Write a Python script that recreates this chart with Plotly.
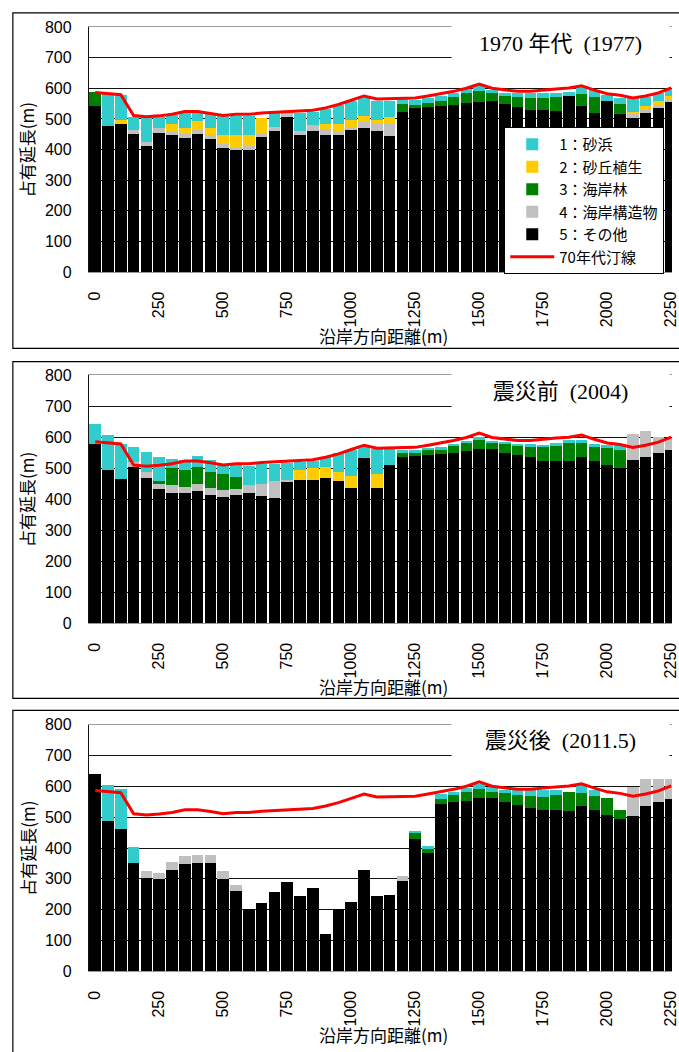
import plotly.graph_objects as go

W, H = 679, 1052

distance = [0, 50, 100, 150, 200, 250, 300, 350, 400, 450, 500, 550, 600, 650, 700, 750,
            800, 850, 900, 950, 1000, 1050, 1100, 1150, 1200, 1250, 1300, 1350, 1400, 1450,
            1500, 1550, 1600, 1650, 1700, 1750, 1800, 1850, 1900, 1950, 2000, 2050, 2100,
            2150, 2200, 2250]
tick_vals = [0, 250, 500, 750, 1000, 1250, 1500, 1750, 2000, 2250]
tick_text = ["0", "250", "500", "750", "1000", "1250", "1500", "1750", "2000", "2250"]

series_names = ["1：砂浜", "2：砂丘植生", "3：海岸林", "4：海岸構造物", "5：その他"]
line_name = "70年代汀線"
panel_titles = ["1970\u00a0年代\u00a0\u00a0(1977)", "震災前\u00a0\u00a0(2004)", "震災後\u00a0\u00a0(2011.5)"]

# ---- 1970s (1977) ----
sunahama_1977 = [0, 104, 81, 41, 80, 36, 30, 48, 25, 48, 63, 63, 63, 0, 49, 0, 58, 42, 49, 60, 60, 58, 63, 53,
                 16, 18, 16, 16, 16, 14, 21, 11, 10, 13, 19, 19, 13, 14, 24, 21, 18, 18, 45, 32, 26, 19]
sakyu_1977 = [0, 0, 13, 0, 0, 0, 23, 19, 29, 24, 29, 41, 35, 50, 0, 0, 0, 0, 17, 23, 23, 16, 12, 22,
              0, 0, 0, 0, 0, 0, 0, 0, 0, 0, 0, 0, 0, 0, 0, 0, 0, 0, 5, 13, 16, 13]
rin_1977 = [48, 0, 0, 0, 0, 0, 0, 0, 0, 0, 0, 0, 0, 0, 0, 0, 0, 0, 0, 0, 0, 0, 0, 0,
            27, 6, 13, 18, 26, 32, 38, 23, 28, 35, 39, 39, 48, 0, 40, 54, 0, 33, 0, 0, 0, 0]
kozo_1977 = [0, 0, 0, 13, 15, 15, 13, 14, 13, 14, 13, 7, 15, 11, 13, 14, 13, 19, 19, 13, 11, 23, 23, 39,
             0, 0, 0, 0, 0, 0, 0, 0, 0, 0, 0, 0, 0, 0, 0, 0, 0, 0, 14, 9, 6, 8]
sonota_1977 = [541, 477, 484, 452, 411, 455, 448, 438, 452, 433, 406, 400, 398, 442, 461, 505, 448, 461,
               448, 448, 463, 470, 461, 445, 521, 538, 538, 541, 544, 551, 554, 560, 548, 538, 528, 528,
               525, 575, 541, 519, 560, 516, 503, 519, 538, 554]

# ---- before the disaster (2004) ----
sunahama_2004 = [63, 113, 114, 49, 66, 76, 32, 33, 37, 38, 29, 37, 63, 64, 54, 55, 28, 24, 32, 61, 83, 35, 81, 51,
                 10, 10, 9, 8, 7, 7, 11, 7, 6, 7, 10, 7, 10, 10, 10, 10, 9, 15, 0, 0, 0, 0]
sakyu_2004 = [0, 0, 0, 0, 0, 0, 0, 0, 0, 0, 0, 0, 0, 0, 0, 0, 32, 39, 35, 31, 38, 0, 44, 0,
              0, 0, 0, 0, 0, 0, 0, 0, 0, 0, 0, 0, 0, 0, 0, 0, 0, 0, 0, 0, 0, 0]
rin_2004 = [0, 0, 0, 0, 0, 11, 54, 53, 55, 53, 51, 39, 0, 0, 0, 0, 0, 0, 0, 0, 0, 0, 0, 0,
            14, 11, 16, 14, 22, 25, 27, 18, 29, 28, 33, 44, 47, 57, 44, 44, 55, 61, 0, 0, 0, 0]
kozo_2004 = [0, 0, 0, 16, 19, 15, 25, 20, 21, 22, 22, 19, 25, 37, 54, 6, 0, 0, 0, 0, 0, 0, 0, 0,
             0, 0, 0, 0, 0, 0, 0, 0, 0, 0, 0, 0, 0, 0, 0, 0, 0, 0, 82, 82, 50, 36]
sonota_2004 = [579, 494, 465, 504, 469, 434, 421, 421, 428, 415, 408, 415, 421, 412, 405, 456, 462, 462,
               469, 459, 437, 535, 437, 512, 536, 539, 542, 547, 550, 557, 564, 564, 550, 544, 536, 525,
               525, 525, 538, 525, 512, 500, 528, 538, 550, 561]

# ---- after the disaster (2011.5) ----
sunahama_2011 = [0, 114, 127, 51, 0, 0, 0, 0, 0, 0, 0, 0, 0, 0, 0, 0, 0, 0, 0, 0, 0, 0, 0, 0,
                 0, 7, 9, 17, 11, 13, 18, 17, 9, 16, 19, 24, 16, 0, 25, 19, 0, 0, 0, 0, 0, 0]
sakyu_2011 = [0, 0, 0, 0, 0, 0, 0, 0, 0, 0, 0, 0, 0, 0, 0, 0, 0, 0, 0, 0, 0, 0, 0, 0,
              0, 0, 0, 0, 0, 0, 0, 0, 0, 0, 0, 0, 0, 0, 0, 0, 0, 0, 0, 0, 0, 0]
rin_2011 = [0, 0, 0, 0, 0, 0, 0, 0, 0, 0, 0, 0, 0, 0, 0, 0, 0, 0, 0, 0, 0, 0, 0, 0,
            0, 19, 13, 16, 22, 29, 28, 19, 29, 31, 38, 41, 47, 60, 42, 44, 54, 29, 0, 0, 0, 0]
kozo_2011 = [0, 0, 0, 0, 20, 19, 25, 25, 26, 26, 26, 19, 0, 0, 0, 0, 0, 0, 0, 0, 0, 0, 0, 0,
             15, 0, 0, 0, 0, 0, 0, 0, 0, 0, 0, 0, 0, 0, 0, 0, 0, 0, 93, 86, 73, 63]
sonota_2011 = [640, 489, 463, 352, 304, 301, 330, 349, 352, 352, 298, 260, 203, 222, 257, 289, 244, 270,
               123, 203, 225, 330, 244, 248, 293, 428, 384, 543, 549, 552, 562, 562, 549, 540, 530, 524,
               524, 521, 536, 524, 508, 495, 505, 536, 549, 559]

# 1970s shoreline
shoreline_70s = [586, 582, 579, 511, 507, 510, 515, 524, 524, 518, 511, 515, 515, 519, 521, 524, 524, 528,
                 536, 547, 561, 575, 565, 566, 569, 568, 575, 582, 590, 600, 614, 600, 595, 590, 590, 595,
                 598, 601, 608, 594, 582, 577, 568, 575, 585, 601]

colors = {"1：砂浜": "#33CCCC", "2：砂丘植生": "#FFCC00", "3：海岸林": "#008000",
          "4：海岸構造物": "#C0C0C0", "5：その他": "#000000"}

panels = [
    {"1：砂浜": sunahama_1977, "2：砂丘植生": sakyu_1977, "3：海岸林": rin_1977,
     "4：海岸構造物": kozo_1977, "5：その他": sonota_1977},
    {"1：砂浜": sunahama_2004, "2：砂丘植生": sakyu_2004, "3：海岸林": rin_2004,
     "4：海岸構造物": kozo_2004, "5：その他": sonota_2004},
    {"1：砂浜": sunahama_2011, "2：砂丘植生": sakyu_2011, "3：海岸林": rin_2011,
     "4：海岸構造物": kozo_2011, "5：その他": sonota_2011},
]

# pixel layout of the three panels (top, bottom of plot area; top, bottom of frame)
plot_px = [(19.3, 268.5), (373.5, 625.5), (728.3, 979.3)]
frame_px = [(5, 346), (359.5, 701.7), (714, 1070)]
x_left_px = 88.0


def py(p):
    return 1 - p / H


fig = go.Figure()
stack_order = ["5：その他", "4：海岸構造物", "3：海岸林", "2：砂丘植生", "1：砂浜"]
for k, data in enumerate(panels):
    xa = "x" if k == 0 else f"x{k+1}"
    ya = "y" if k == 0 else f"y{k+1}"
    for name in stack_order:
        fig.add_trace(go.Bar(
            x=distance, y=data[name], name=name, xaxis=xa, yaxis=ya,
            marker=dict(color=colors[name], line=dict(width=0)),
            showlegend=(k == 0), legendrank=series_names.index(name) + 1,
            hoverinfo="skip"))
    fig.add_trace(go.Scatter(
        x=distance, y=shoreline_70s, name=line_name, mode="lines", xaxis=xa, yaxis=ya,
        line=dict(color="#FF0000", width=3), showlegend=(k == 0), legendrank=6,
        hoverinfo="skip"))

tick_font = dict(family="Liberation Sans, Arial, sans-serif", size=16, color="black")
layout = dict(
    width=W, height=H, autosize=False,
    margin=dict(l=0, r=0, t=0, b=0, pad=0),
    paper_bgcolor="white", plot_bgcolor="white",
    barmode="stack", bargap=0.1,
    font=dict(family="Noto Sans CJK JP, sans-serif", color="black"),
    legend=dict(x=509 / W, y=py(121), xanchor="left", yanchor="top",
                bgcolor="white", bordercolor="black", borderwidth=1,
                font=dict(family="Noto Sans CJK JP, sans-serif", size=15, color="black"),
                tracegroupgap=0, traceorder="normal", itemwidth=44),
)

annotations = []
shapes = []
for k in range(3):
    sx = "xaxis" if k == 0 else f"xaxis{k+1}"
    sy = "yaxis" if k == 0 else f"yaxis{k+1}"
    ya = "y" if k == 0 else f"y{k+1}"
    xa = "x" if k == 0 else f"x{k+1}"
    top, bot = plot_px[k]
    layout[sx] = dict(domain=[x_left_px / W, 1], range=[-25, 2253], anchor=ya,
                      tickmode="array", tickvals=tick_vals, ticktext=tick_text,
                      tickangle=-90, tickfont=tick_font, ticks="", showgrid=False,
                      zeroline=False, showline=True, linecolor="#9a9a9a", linewidth=1,
                      mirror=True, ticklabelstandoff=12, ticklabeloverflow="allow",
                      fixedrange=True)
    layout[sy] = dict(domain=[py(bot), py(top)], range=[0, 800], anchor=xa,
                      tickmode="linear", tick0=0, dtick=100, tickfont=tick_font,
                      ticks="", showgrid=True, gridcolor="#111111", gridwidth=1,
                      zeroline=False, showline=True, linecolor="#111111", linewidth=1,
                      ticklabelstandoff=13, fixedrange=True)
    # panel title (white box breaks the gridlines as in the original)
    annotations.append(dict(xref="paper", yref="paper", x=565.5 / W, y=py(top + 16),
                            text=panel_titles[k], showarrow=False, xanchor="center",
                            yanchor="middle", width=215, height=38, bgcolor="white",
                            font=dict(family="Liberation Serif, Noto Sans CJK JP, serif",
                                      size=22, color="black")))
    # axis titles
    annotations.append(dict(xref="paper", yref="paper", x=25 / W, y=py((top + bot) / 2),
                            text="占有延長(m)", showarrow=False, textangle=-90,
                            xanchor="center", yanchor="middle",
                            font=dict(family="Noto Sans CJK JP, sans-serif", size=17,
                                      color="black")))
    annotations.append(dict(xref="paper", yref="paper", x=386.5 / W, y=py(bot + 64),
                            text="沿岸方向距離(m)", showarrow=False,
                            xanchor="center", yanchor="middle",
                            font=dict(family="Noto Sans CJK JP, sans-serif", size=17,
                                      color="black")))
    ft, fb = frame_px[k]
    shapes.append(dict(type="rect", xref="paper", yref="paper", x0=11 / W, x1=1.05,
                       y0=py(fb), y1=py(ft), line=dict(color="black", width=1.2),
                       fillcolor="rgba(0,0,0,0)", layer="above"))

layout["annotations"] = annotations
layout["shapes"] = shapes
fig.update_layout(**layout)

page_js = (
    "document.documentElement.style.overflow='hidden';"
    "document.body.style.margin='0';document.body.style.overflow='hidden';"
)
fig.write_html("out.html", config={"displayModeBar": False}, post_script=page_js)
